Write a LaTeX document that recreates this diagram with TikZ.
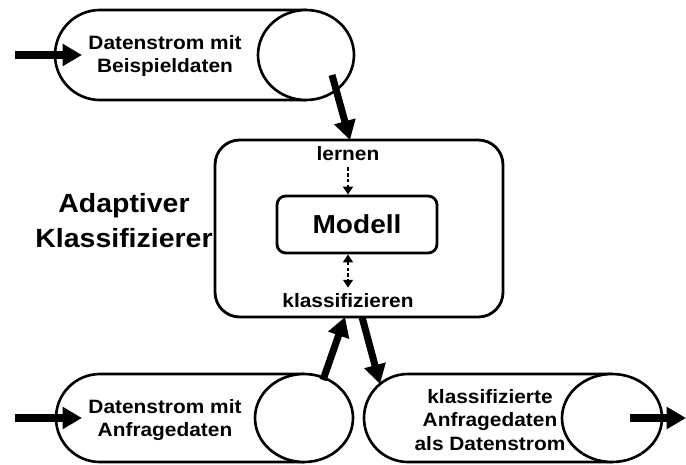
\documentclass[tikz,border=0pt]{standalone}
\usepackage{fontspec}
\setmainfont{Liberation Sans}[FakeStretch=1.08]
\usetikzlibrary{arrows.meta}
\begin{document}
\begin{tikzpicture}[x=0.02cm, y=0.02cm,
		strom/.style={line width=1.5pt},
		fluss/.style={line width=4pt, -{Triangle[length=11pt,width=12pt]}},
		fein/.style={line width=1.4pt, dash pattern=on 2pt off 1.3pt},
		txt/.style={font=\bfseries\fontsize{11}{13.5}\selectfont, align=center}]

		\useasboundingbox (0,0) rectangle (686,464);

		 	\draw[strom, fill=white] (306,454) -- (100,454) arc[start angle=90, end angle=270, radius=45] -- (306,364);
		 	\draw[strom, fill=white] (306,409) ellipse [x radius=48, y radius=45];

		 	\draw[strom, fill=white] (304,90) -- (100,90) arc[start angle=90, end angle=270, radius=44] -- (304,2);
		 	\draw[strom, fill=white] (304,46) ellipse [x radius=49, y radius=44];

		 	\draw[strom, fill=white] (612,90) -- (408,90) arc[start angle=90, end angle=270, radius=44] -- (612,2);
		 	\draw[strom, fill=white] (612,46) ellipse [x radius=50, y radius=44];

			 \node[txt] (beisp) at (165,408) {Datenstrom mit\\Beispieldaten};
			 \node[txt] (anfr) at (165,44) {Datenstrom mit\\Anfragedaten};
			 \node[txt] (klass) at (490,44) {klassifizierte\\Anfragedaten\\als Datenstrom};

			 \node[draw, line width=1.6pt, rounded corners=14pt, minimum width=5.76cm, minimum height=3.54cm] (adapt) at (359,235.5) {};
			 \node[draw, line width=1.6pt, rounded corners=5pt, minimum width=3.2cm, minimum height=1.14cm,
				 font=\bfseries\fontsize{14.8}{16}\selectfont] (modell) at (357,239.5) {Modell};
			 \node[txt] (lern) at (348,310) {lernen};
			 \node[txt] (klassi) at (348,163) {klassifizieren};
			 \node[font=\bfseries\fontsize{15}{20}\selectfont, align=center] (name) at (124,243) {Adaptiver\\Klassifizierer};

			 \coordinate (ein1) at (15,409);
			 \coordinate (ein1e) at (82,409);
			 \coordinate (ein2) at (15,46);
			 \coordinate (ein2e) at (82,46);
			 \coordinate (aus1) at (332,389);
			 \coordinate (adaptoben) at (350,324);
			 \coordinate (aus2) at (323,84);
			 \coordinate (adaptlinks) at (345,147);
			 \coordinate (adaptrechts) at (362,147);
			 \coordinate (klassoben) at (380,80);
			 \coordinate (aus3) at (630,46);
			 \coordinate (aus3e) at (686,46);

			 \draw[fluss] (ein1) -- (ein1e);
			 \draw[fluss] (ein2) -- (ein2e);
			 \draw[fluss] (aus1) -- (adaptoben);
			 \draw[fluss] (aus2) -- (adaptlinks);
			 \draw[fluss] (adaptrechts) -- (klassoben);
			 \draw[fluss] (aus3) -- (aus3e);

			 \draw[fein, -{Triangle[length=4.5pt,width=5.5pt]}] (lern.south) -- (lern.south |- modell.north);
			 \draw[fein, {Triangle[length=4.5pt,width=5.5pt]}-{Triangle[length=4.5pt,width=5.5pt]}] (klassi.north |- modell.south) -- (klassi.north);

		\end{tikzpicture}
\end{document}
